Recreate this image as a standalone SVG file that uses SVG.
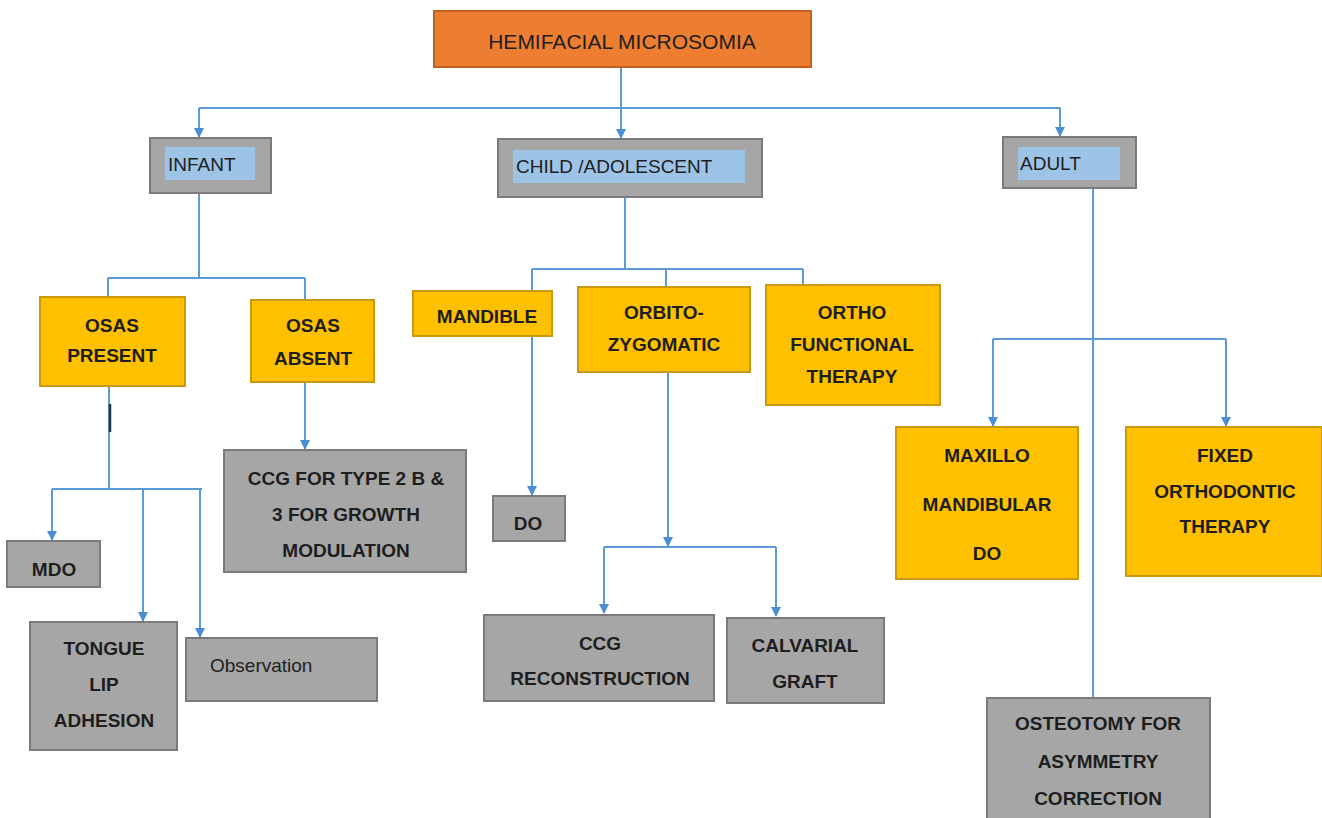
<svg xmlns="http://www.w3.org/2000/svg" width="1322" height="818" viewBox="0 0 1322 818">
<defs>
<marker id="arr" viewBox="0 0 10 10" refX="9" refY="5" markerWidth="10" markerHeight="11" markerUnits="userSpaceOnUse" orient="auto">
<path d="M0,0 L10,5 L0,10 Z" fill="#4a8fd4"/>
</marker>
</defs>
<style>
.bg{fill:#ffffff}
.title{fill:#ED7D31;stroke:#c2611f;stroke-width:2}
.gray{fill:#A6A6A6;stroke:#7a7a7a;stroke-width:2}
.blue{fill:#9DC3E6}
.gold{fill:#FFC000;stroke:#c99a10;stroke-width:2}
.t{font-family:"Liberation Sans",Arial,sans-serif;font-size:19px;fill:#1e1e1e;text-anchor:middle}
.b{font-weight:bold}
.l{text-anchor:start}
.c{fill:none;stroke:#5B9BD5;stroke-width:2}
.ca{fill:none;stroke:#5B9BD5;stroke-width:2;marker-end:url(#arr)}
</style>
<rect class="bg" x="0" y="0" width="1322" height="818"/>

<g id="connectors">
<path class="c" d="M621,67 V108"/>
<path class="c" d="M199,108 H1060"/>
<path class="ca" d="M199,108 V137"/>
<path class="ca" d="M621,108 V138"/>
<path class="ca" d="M1060,108 V136"/>
<path class="c" d="M199,193 V278 M108,278 H305 M108,278 V297 M305,278 V300"/>
<path class="c" d="M109,386 V489 M52,489 H202"/>
<path fill="none" stroke="#2a3440" stroke-width="2.5" d="M110,404 V432"/>
<path class="ca" d="M52,489 V540"/>
<path class="ca" d="M143,489 V621"/>
<path class="ca" d="M200,489 V637"/>
<path class="ca" d="M305,382 V449"/>
<path class="c" d="M625,197 V269 M532,269 H803 M666,269 V287 M803,269 V285"/>
<path class="c" d="M532,269 V291"/>
<path class="ca" d="M532,336 V495"/>
<path class="ca" d="M668,372 V546"/>
<path class="c" d="M604,547 H776"/>
<path class="ca" d="M604,547 V613"/>
<path class="ca" d="M776,547 V616"/>
<path class="c" d="M1093,188 V698"/>
<path class="c" d="M993,339 H1226"/>
<path class="ca" d="M993,339 V426"/>
<path class="ca" d="M1226,339 V426"/>
</g>

<g id="hemifacial">
<rect class="title" x="434" y="11" width="377" height="56"/>
<text class="t" x="622" y="49" style="font-size:21px">HEMIFACIAL MICROSOMIA</text>
</g>

<g id="infant">
<rect class="gray" x="150" y="138" width="121" height="55"/>
<rect class="blue" x="165" y="147" width="90" height="33"/>
<text class="t l" x="168" y="171">INFANT</text>
</g>

<g id="child">
<rect class="gray" x="498" y="139" width="264" height="58"/>
<rect class="blue" x="513" y="150" width="232" height="33"/>
<text class="t l" x="516" y="173">CHILD /ADOLESCENT</text>
</g>

<g id="adult">
<rect class="gray" x="1003" y="137" width="133" height="51"/>
<rect class="blue" x="1018" y="147" width="102" height="33"/>
<text class="t l" x="1020" y="170">ADULT</text>
</g>

<g id="osas-present">
<rect class="gold" x="40" y="297" width="145" height="89"/>
<text class="t b" x="112" y="332">OSAS</text>
<text class="t b" x="112" y="362">PRESENT</text>
</g>

<g id="osas-absent">
<rect class="gold" x="251" y="300" width="123" height="82"/>
<text class="t b" x="313" y="332">OSAS</text>
<text class="t b" x="313" y="365">ABSENT</text>
</g>

<g id="mdo">
<rect class="gray" x="7" y="541" width="93" height="46"/>
<text class="t b" x="54" y="576">MDO</text>
</g>

<g id="tongue">
<rect class="gray" x="30" y="622" width="147" height="128"/>
<text class="t b" x="104" y="655">TONGUE</text>
<text class="t b" x="104" y="691">LIP</text>
<text class="t b" x="104" y="727">ADHESION</text>
</g>

<g id="observation">
<rect class="gray" x="186" y="638" width="191" height="63"/>
<text class="t l" x="210" y="672">Observation</text>
</g>

<g id="ccg-growth">
<rect class="gray" x="224" y="450" width="242" height="122"/>
<text class="t b" x="346" y="485">CCG FOR TYPE 2 B &amp;</text>
<text class="t b" x="346" y="521">3 FOR GROWTH</text>
<text class="t b" x="346" y="557">MODULATION</text>
</g>

<g id="mandible">
<rect class="gold" x="413" y="291" width="139" height="45"/>
<text class="t b" x="487" y="323">MANDIBLE</text>
</g>

<g id="orbito">
<rect class="gold" x="578" y="287" width="172" height="85"/>
<text class="t b" x="664" y="319">ORBITO-</text>
<text class="t b" x="664" y="351">ZYGOMATIC</text>
</g>

<g id="ortho-functional">
<rect class="gold" x="766" y="285" width="174" height="120"/>
<text class="t b" x="852" y="319">ORTHO</text>
<text class="t b" x="852" y="351">FUNCTIONAL</text>
<text class="t b" x="852" y="383">THERAPY</text>
</g>

<g id="do">
<rect class="gray" x="493" y="496" width="72" height="45"/>
<text class="t b" x="528" y="530">DO</text>
</g>

<g id="ccg-reconstruction">
<rect class="gray" x="484" y="615" width="230" height="86"/>
<text class="t b" x="600" y="650">CCG</text>
<text class="t b" x="600" y="685">RECONSTRUCTION</text>
</g>

<g id="calvarial">
<rect class="gray" x="727" y="618" width="157" height="85"/>
<text class="t b" x="805" y="652">CALVARIAL</text>
<text class="t b" x="805" y="688">GRAFT</text>
</g>

<g id="maxillo">
<rect class="gold" x="896" y="427" width="182" height="152"/>
<text class="t b" x="987" y="462">MAXILLO</text>
<text class="t b" x="987" y="511">MANDIBULAR</text>
<text class="t b" x="987" y="560">DO</text>
</g>

<g id="fixed">
<rect class="gold" x="1126" y="427" width="196" height="149"/>
<text class="t b" x="1225" y="462">FIXED</text>
<text class="t b" x="1225" y="498">ORTHODONTIC</text>
<text class="t b" x="1225" y="533">THERAPY</text>
</g>

<g id="osteotomy">
<rect class="gray" x="987" y="698" width="223" height="125"/>
<text class="t b" x="1098" y="730">OSTEOTOMY FOR</text>
<text class="t b" x="1098" y="768">ASYMMETRY</text>
<text class="t b" x="1098" y="805">CORRECTION</text>
</g>
</svg>
